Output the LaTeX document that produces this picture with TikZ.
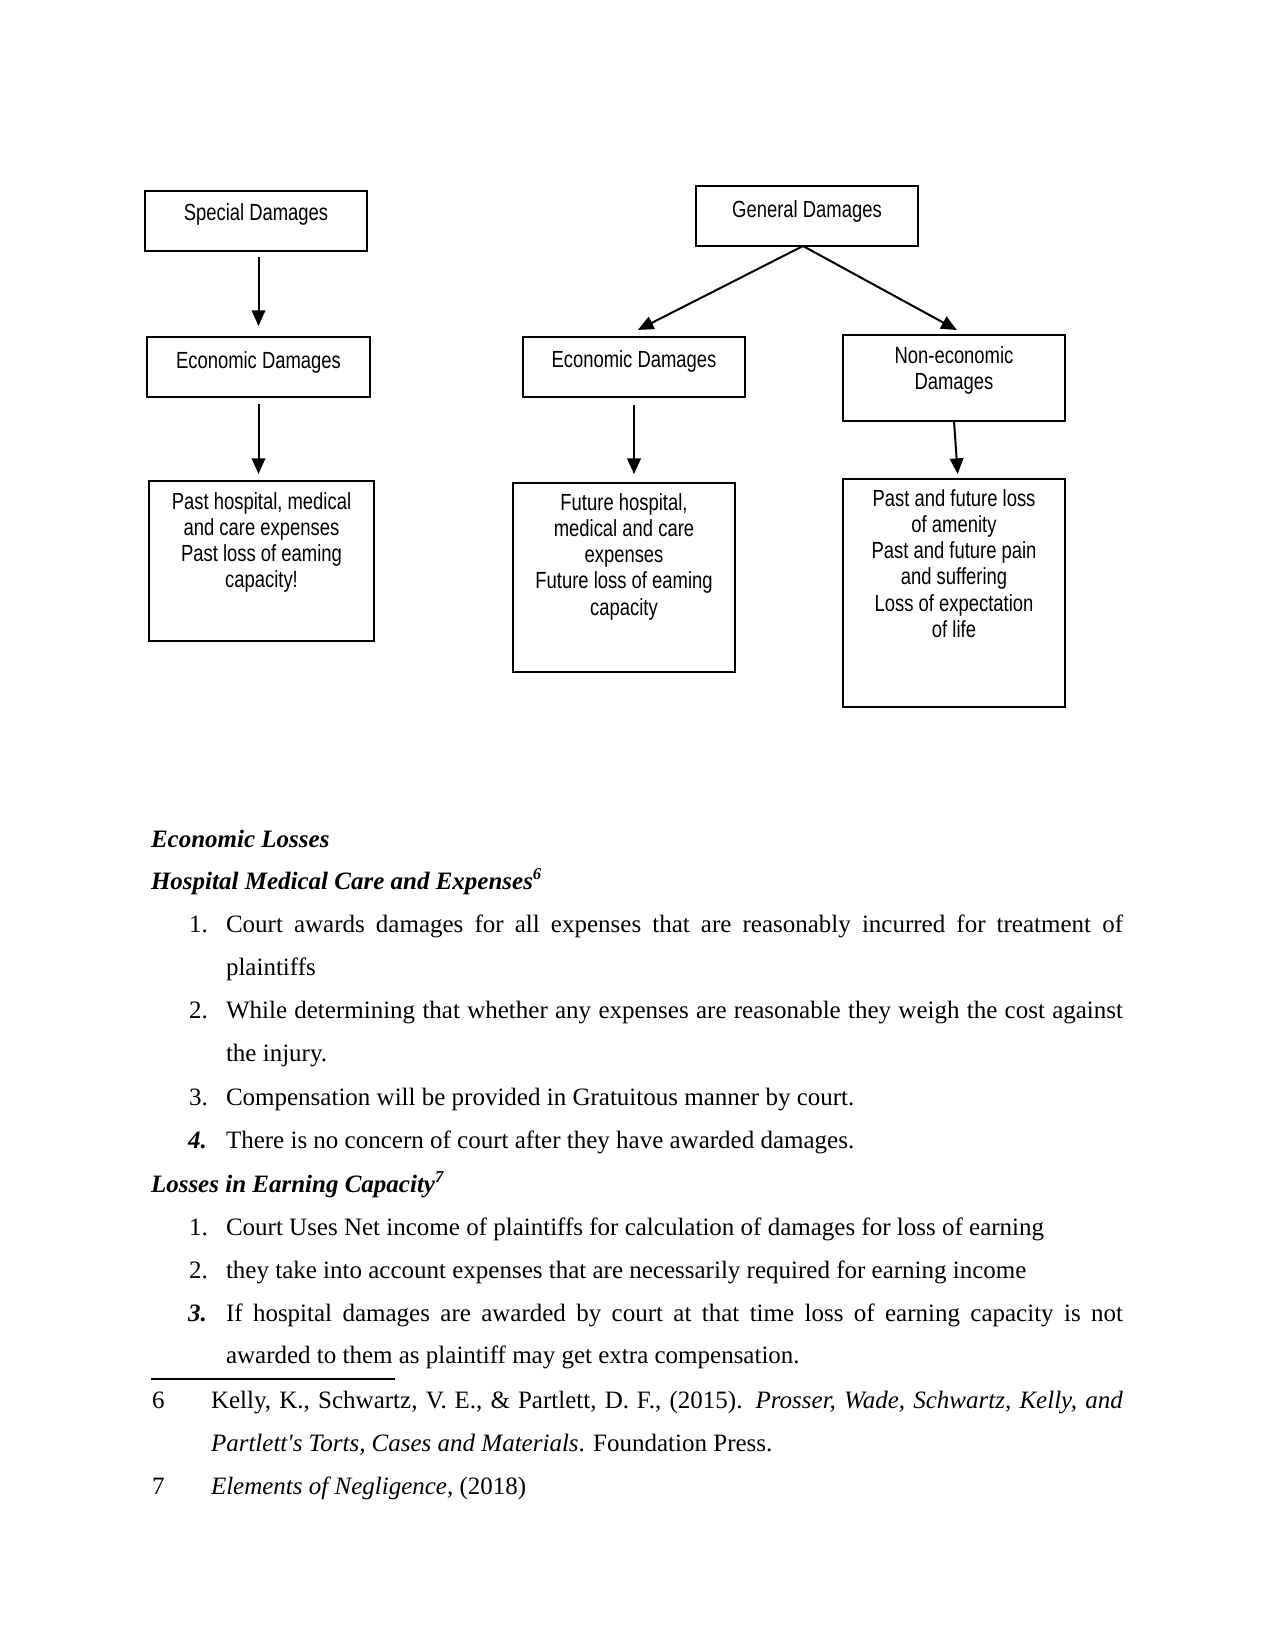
\documentclass[tikz,border=0pt]{standalone}
\usepackage{fontspec}
\setmainfont{Liberation Serif}[Ligatures=TeXOff]
\newfontfamily\diagfont[FakeStretch=0.79]{Liberation Sans}
\usetikzlibrary{arrows.meta,calc}
\newlength\px
\setlength\px{0.48pt}
\newcommand\bxt[4]{\parbox[c][#2\px][t]{#1\px}{\diagfont\fontsize{11.2}{12.6}\selectfont\centering\rule{0pt}{#3\px}#4\par}}
\begin{document}
\begin{tikzpicture}[x=0.48pt,y=-0.48pt,
  box/.style={draw, line width=0.96pt, inner sep=0pt, outer sep=0pt, anchor=north west},
  arr/.style={line width=0.96pt, -{Triangle[length=7.5pt,width=6.5pt]}},
  txt/.style={anchor=base west, inner sep=0pt, outer sep=0pt, font=\fontsize{12}{14}\selectfont},
  hd/.style={txt, font=\fontsize{12}{14}\selectfont\bfseries\itshape},
]
\useasboundingbox (0,0) rectangle (1275,1651);
\fill[white] (0,0) rectangle (1275,1651);

% ---- diagram ----
\node[box] (sd)   at (145,191) {\bxt{222}{60}{30}{Special Damages}};
\node[box] (ecoL) at (147,337) {\bxt{223}{60}{31}{Economic Damages}};
\node[box] (pastL) at (149,481) {\bxt{225}{160}{28}{Past hospital, medical\\and care expenses\\Past loss of eaming\\capacity!}};

\node[box] (gd)   at (696,186) {\bxt{222}{60}{31}{General Damages}};
\node[box] (ecoM) at (523,337) {\bxt{222}{60}{30}{Economic Damages}};
\node[box] (nonE) at (843,335) {\bxt{222}{86}{28}{Non-economic\\Damages}};
\node[box] (futM) at (513,483) {\bxt{222}{189}{27}{Future hospital,\\medical and care\\expenses\\Future loss of eaming\\capacity}};
\node[box] (pfR)  at (843,479) {\bxt{222}{228}{27}{Past and future loss\\of amenity\\Past and future pain\\and suffering\\Loss of expectation\\of life}};

\draw[arr, shorten <=2.9pt, shorten >=5.3pt] (sd.south -| ecoL.north) -- (ecoL.north);
\draw[arr, shorten <=3.4pt, shorten >=3.4pt] (ecoL.south) -- (ecoL.south |- pastL.north);
\draw[arr, shorten >=7.5pt] ($(gd.south)+(-4,0)$) -- ($(ecoM.north)+(-10,0)$);
\draw[arr, shorten >=5pt] ($(gd.south)+(-4,0)$) -- ($(nonE.north)+(12,0)$);
\draw[arr, shorten <=3.8pt, shorten >=4.3pt] (ecoM.south) -- (ecoM.south |- futM.north);
\draw[arr, shorten <=0.5pt, shorten >=2.4pt] (nonE.south) -- ($(pfR.north)+(4,0)$);

% ---- text ----
\node[hd] (h1) at (151,847) {Economic Losses};
\node[hd] (h2) at (151,889) {Hospital Medical Care and Expenses\textsuperscript{6}};
\node[txt] (a1n) at (189,932) {1.};
\node[txt] (a1) at (226,932) {\makebox[897\px][s]{Court awards damages for all expenses that are reasonably incurred for treatment of}};
\node[txt] (a1b) at (226,975) {plaintiffs};
\node[txt] (a2n) at (189,1018) {2.};
\node[txt] (a2) at (226,1018) {\makebox[897\px][s]{While determining that whether any expenses are reasonable they weigh the cost against}};
\node[txt] (a2b) at (226,1061) {the injury.};
\node[txt] (a3n) at (189,1105) {3.};
\node[txt] (a3) at (226,1105) {Compensation will be provided in Gratuitous manner by court.};
\node[hd] (a4n) at (188,1148) {4.};
\node[txt] (a4) at (226,1148) {There is no concern of court after they have awarded damages.};

\node[hd] (h3) at (151,1192) {Losses in Earning Capacity\textsuperscript{7}};
\node[txt] (b1n) at (189,1235) {1.};
\node[txt] (b1) at (226,1235) {Court Uses Net income of plaintiffs for calculation of damages for loss of earning};
\node[txt] (b2n) at (189,1278) {2.};
\node[txt] (b2) at (226,1278) {they take into account expenses that are necessarily required for earning income};
\node[hd] (b3n) at (188,1321) {3.};
\node[txt] (b3) at (226,1321) {\makebox[897\px][s]{If hospital damages are awarded by court at that time loss of earning capacity is not}};
\node[txt] (b3b) at (226,1363) {awarded to them as plaintiff may get extra compensation.};

\draw[line width=0.96pt] (151,1379) -- (395,1379);

\node[txt] (f6n) at (152,1408) {6};
\node[txt] (f6) at (211,1408) {\makebox[912\px][s]{Kelly, K., Schwartz, V. E., \& Partlett, D. F., (2015). \textit{Prosser, Wade, Schwartz, Kelly, and}}};
\node[txt] (f6b) at (211,1451) {\textit{Partlett's Torts, Cases and Materials}. Foundation Press.};
\node[txt] (f7n) at (152,1494) {7};
\node[txt] (f7) at (211,1494) {\textit{Elements of Negligence,} (2018)};
\end{tikzpicture}
\end{document}
